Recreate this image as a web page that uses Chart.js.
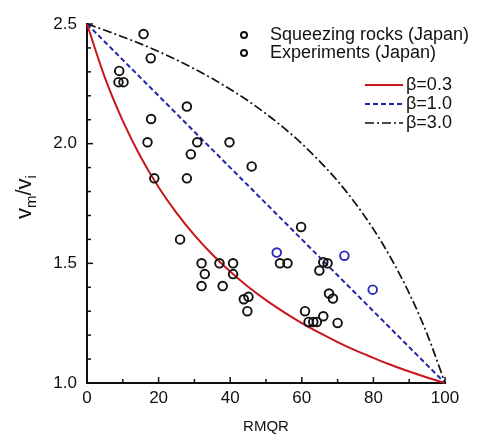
<!DOCTYPE html>
<html>
<head>
<meta charset="utf-8">
<script src="https://cdn.jsdelivr.net/npm/chart.js@4.4.0/dist/chart.umd.min.js"></script>
<style>
html,body{margin:0;padding:0;background:#fff;}
#wrap{width:481px;height:436px;position:relative;}
</style>
</head>
<body>
<div id="wrap"><canvas id="c" width="481" height="436"></canvas></div>
<script>
// ---- data ----
const rocksX = [15.8, 17.8, 9.0, 8.8, 10.2, 27.9, 17.9, 16.9, 30.8, 39.8, 29.0, 18.8, 27.9, 46.0,
                26.0, 32.0, 32.9, 32.0, 37.0, 37.9, 40.8, 40.8, 43.8, 45.1, 44.8,
                59.8, 53.9, 56.0, 66.0, 67.2, 64.9, 67.6, 68.7, 60.9, 61.9, 63.2, 64.2, 66.0, 70.0];
const rocksY = [2.458, 2.357, 2.304, 2.257, 2.257, 2.155, 2.103, 2.006, 2.006, 2.006, 1.956, 1.855, 1.855, 1.905,
                1.60, 1.50, 1.455, 1.405, 1.50, 1.405, 1.50, 1.455, 1.35, 1.36, 1.30,
                1.652, 1.50, 1.50, 1.505, 1.50, 1.47, 1.374, 1.353, 1.30, 1.255, 1.255, 1.255, 1.279, 1.251];
const expX = [53.0, 71.9, 79.8];
const expY = [1.545, 1.532, 1.39];

const curveX  = [0, 5, 10, 15, 20, 25, 30, 35, 40, 45, 50, 55, 60, 65, 70, 75, 80, 85, 90, 95, 100];
const beta03Y = [2.5, 2.276, 2.095, 1.944, 1.818, 1.711, 1.618, 1.537, 1.466, 1.402, 1.346, 1.296, 1.25, 1.209, 1.171, 1.136, 1.105, 1.075, 1.048, 1.023, 1.0];
const beta10Y = [2.5, 2.425, 2.35, 2.275, 2.2, 2.125, 2.05, 1.975, 1.9, 1.825, 1.75, 1.675, 1.6, 1.525, 1.45, 1.375, 1.3, 1.225, 1.15, 1.075, 1.0];
const beta30Y = [2.5, 2.474, 2.446, 2.417, 2.385, 2.35, 2.3125, 2.272, 2.227, 2.179, 2.125, 2.066, 2.0, 1.926, 1.844, 1.75, 1.643, 1.519, 1.375, 1.205, 1.0];

const seriesNames = ['Squeezing rocks (Japan)', 'Experiments (Japan)'];
const curveNames = ['β=0.3', 'β=1.0', 'β=3.0'];
const xTitle = 'RMQR';

const pts = (xs, ys) => xs.map((x, i) => ({x: x, y: ys[i]}));

const FONT = "'Liberation Sans', Arial, sans-serif";
const RED = '#c8161d', BLUE = '#2026a6', BLACK = '#111';
const dashes = [[], [5, 3], [9, 3, 2, 3]];
const colors = [RED, BLUE, BLACK];

const decor = {
  id: 'decor',
  afterDraw(chart) {
    const ctx = chart.ctx;
    ctx.save();
    // inward tick marks
    ctx.strokeStyle = BLACK;
    ctx.lineWidth = 1.5;
    const xs = chart.scales.x, ys = chart.scales.y;
    xs.ticks.forEach(t => {
      const px = xs.getPixelForValue(t.value);
      const major = Math.round(t.value) % 20 === 0;
      const len = major ? 6 : 4;
      ctx.beginPath(); ctx.moveTo(px, ys.bottom); ctx.lineTo(px, ys.bottom - len); ctx.stroke();
    });
    ys.ticks.forEach(t => {
      const py = ys.getPixelForValue(t.value);
      const major = Math.abs(t.value * 2 - Math.round(t.value * 2)) < 1e-6;
      const len = major ? 6 : 4;
      ctx.beginPath(); ctx.moveTo(xs.left, py); ctx.lineTo(xs.left + len, py); ctx.stroke();
    });

    // x title
    ctx.fillStyle = BLACK;
    ctx.font = '15px ' + FONT;
    ctx.textAlign = 'center';
    ctx.textBaseline = 'middle';
    ctx.fillText(xTitle, (xs.left + xs.right) / 2, 427);

    // y title  v_m / v_i  (rotated)
    ctx.save();
    ctx.translate(31, 219);
    ctx.rotate(-Math.PI / 2);
    ctx.textAlign = 'left';
    ctx.textBaseline = 'alphabetic';
    let cx = 0;
    const big = '22px ' + FONT, small = '15px ' + FONT;
    const parts = [['v', big, 0], ['m', small, 5], ['/', big, 0], ['v', big, 0], ['i', small, 5]];
    parts.forEach(p => {
      ctx.font = p[1];
      ctx.fillText(p[0], cx, p[2]);
      cx += ctx.measureText(p[0]).width;
    });
    ctx.restore();

    // legend: markers
    ctx.font = '18px ' + FONT;
    ctx.textAlign = 'left';
    ctx.textBaseline = 'middle';
    const rowsY = [35, 53];
    seriesNames.forEach((n, i) => {
      ctx.beginPath();
      ctx.lineWidth = 2;
      ctx.strokeStyle = BLACK;
      ctx.arc(244, rowsY[i], 3, 0, Math.PI * 2);
      ctx.stroke();
      ctx.fillStyle = BLACK;
      ctx.fillText(n, 270, rowsY[i]);
    });
    // legend: curves
    const cRows = [85, 104, 123];
    curveNames.forEach((n, i) => {
      ctx.beginPath();
      ctx.lineWidth = i === 2 ? 1.6 : 2;
      ctx.strokeStyle = colors[i];
      ctx.setLineDash(dashes[i]);
      ctx.moveTo(365, cRows[i]); ctx.lineTo(403, cRows[i]);
      ctx.stroke();
      ctx.setLineDash([]);
      ctx.fillStyle = BLACK;
      ctx.fillText(n, 406, cRows[i]);
    });
    ctx.restore();
  }
};

const curveDs = (ys, i) => ({
  type: 'line',
  label: curveNames[i],
  data: pts(curveX, ys),
  borderColor: colors[i],
  borderWidth: i === 2 ? 1.7 : 2,
  borderDash: dashes[i],
  pointRadius: 0,
  fill: false,
  cubicInterpolationMode: 'monotone',
  clip: false,
  order: 2
});

new Chart(document.getElementById('c'), {
  type: 'scatter',
  data: {
    datasets: [
      curveDs(beta03Y, 0),
      curveDs(beta10Y, 1),
      curveDs(beta30Y, 2),
      {
        label: seriesNames[0],
        data: pts(rocksX, rocksY),
        pointRadius: 4.3,
        pointBorderWidth: 1.9,
        pointBorderColor: BLACK,
        pointBackgroundColor: 'rgba(255,255,255,0)',
        showLine: false,
        clip: false,
        order: 1
      },
      {
        label: seriesNames[1],
        data: pts(expX, expY),
        pointRadius: 4.3,
        pointBorderWidth: 1.9,
        pointBorderColor: '#2a2ab4',
        pointBackgroundColor: 'rgba(255,255,255,0)',
        showLine: false,
        clip: false,
        order: 1
      }
    ]
  },
  options: {
    responsive: false,
    animation: false,
    events: [],
    layout: { padding: { top: 24, right: 36, left: 0, bottom: 0 } },
    plugins: { legend: { display: false }, tooltip: { enabled: false } },
    scales: {
      x: {
        type: 'linear', min: 0, max: 100,
        afterFit: s => { s.height = 53; },
        grid: { display: false, drawTicks: false },
        border: { display: true, color: BLACK, width: 2 },
        ticks: {
          stepSize: 10, autoSkip: false, maxRotation: 0, padding: 5,
          color: BLACK, font: { family: FONT, size: 17 },
          callback: v => (Math.round(v) % 20 === 0 ? String(Math.round(v)) : '')
        }
      },
      y: {
        type: 'linear', min: 1.0, max: 2.5,
        afterFit: s => { s.width = 87; },
        grid: { display: false, drawTicks: false },
        border: { display: true, color: BLACK, width: 2 },
        ticks: {
          stepSize: 0.1, autoSkip: false, padding: 10,
          color: BLACK, font: { family: FONT, size: 17 },
          callback: v => (Math.abs(v * 2 - Math.round(v * 2)) < 1e-6 ? v.toFixed(1) : '')
        }
      }
    }
  },
  plugins: [decor]
});
</script>
</body>
</html>
